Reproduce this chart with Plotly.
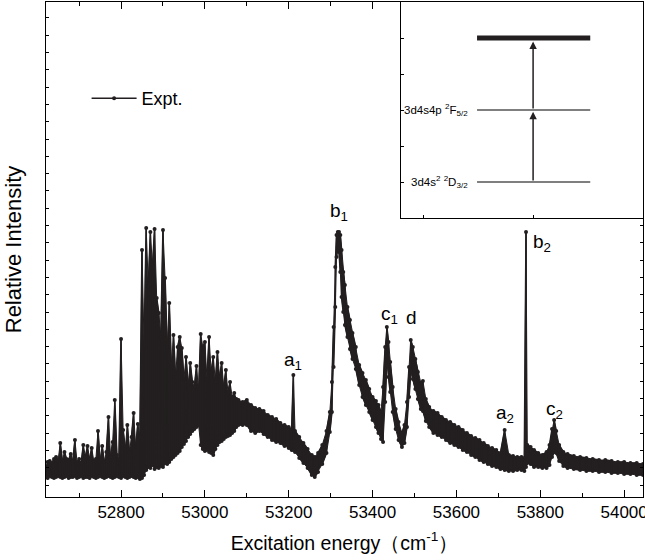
import plotly.graph_objects as go

# ---- spectrum: energy (cm-1), upper and lower edge of the trace band ----
energy = [52620, 52625, 52630, 52635, 52640, 52645, 52650, 52655, 52660, 52665,
          52670, 52675, 52680, 52685, 52690, 52695, 52700, 52705, 52710, 52715,
          52720, 52725, 52730, 52735, 52740, 52745, 52750, 52755, 52760, 52765,
          52770, 52775, 52780, 52785, 52790, 52795, 52800, 52805, 52810, 52815,
          52820, 52825, 52830, 52835, 52840, 52845, 52850, 52855, 52860, 52865,
          52870, 52875, 52880, 52885, 52890, 52895, 52900, 52905, 52910, 52915,
          52920, 52925, 52930, 52935, 52940, 52945, 52950, 52955, 52960, 52965,
          52970, 52975, 52980, 52985, 52990, 52995, 53000, 53005, 53010, 53015,
          53020, 53025, 53030, 53035, 53040, 53045, 53050, 53055, 53060, 53065,
          53070, 53075, 53080,
          53090, 53100, 53110, 53120, 53130, 53140, 53150, 53160, 53170, 53180,
          53190, 53200, 53207, 53211, 53215, 53225, 53235, 53245, 53255, 53262,
          53270, 53280, 53290, 53298, 53303, 53307, 53311, 53314, 53317, 53320,
          53323, 53326, 53330, 53334, 53340, 53346, 53352, 53360, 53368, 53376,
          53384, 53392, 53400, 53408, 53414, 53420, 53425, 53430, 53434, 53438,
          53442, 53448, 53455, 53462, 53470, 53476, 53482, 53487, 53491, 53496,
          53502, 53508, 53515, 53520, 53527, 53535, 53545, 53555, 53565, 53575,
          53585, 53595, 53605, 53615, 53625, 53635, 53645, 53655, 53665, 53675,
          53685, 53695, 53705, 53715, 53725, 53735, 53745, 53755, 53762, 53766,
          53769, 53777, 53785, 53795, 53805, 53815, 53822, 53828, 53833, 53838,
          53845, 53855, 53865, 53880, 53895, 53910, 53925, 53940, 53955, 53970,
          53985, 54000, 54015, 54030, 54045]

upper = [30, 35, 36, 34, 38, 40, 37, 54, 36, 45,
         38, 37, 43, 36, 57, 35, 38, 34, 52, 40,
         51, 38, 49, 36, 38, 66, 37, 51, 35, 45,
         80, 40, 55, 97, 42, 38, 158, 67, 48, 72,
         45, 60, 84, 50, 73, 60, 247, 150, 269, 210,
         265, 230, 268, 199, 184, 160, 267, 219, 150, 194,
         130, 162, 120, 150, 160, 149, 118, 140, 112, 134,
         115, 110, 131, 105, 163, 150, 155, 118, 160, 125,
         140, 115, 145, 120, 134, 110, 127, 105, 115, 100,
         104, 98, 97,
         95, 97, 92, 89, 88, 86, 82, 80, 78, 74,
         72, 70, 68, 122, 66, 60, 54, 48, 42, 40,
         44, 52, 66, 85, 115, 170, 230, 262, 265, 265,
         262, 247, 225, 212, 190, 177, 164, 150, 132, 124,
         117, 108, 100, 96, 92, 85, 110, 150, 170, 155,
         135, 110, 88, 75, 64, 72, 95, 130, 157, 150,
         138, 125, 114, 116, 98, 90, 86, 84, 80, 77,
         75, 72, 70, 67, 64, 61, 59, 57, 54, 51,
         49, 47, 44, 67, 42, 41, 40, 40, 39, 265,
         52, 50, 47, 44, 42, 45, 52, 68, 77, 66,
         52, 45, 43, 41, 40, 39, 38, 37, 37, 36,
         35, 35, 34, 34, 33]

lower = [20, 19, 21, 20, 19, 20, 21, 20, 19, 20,
         21, 19, 20, 20, 21, 19, 20, 21, 19, 20,
         20, 19, 21, 20, 19, 20, 21, 20, 19, 20,
         21, 20, 19, 20, 21, 20, 19, 21, 20, 19,
         20, 21, 20, 19, 20, 18, 19, 22, 27, 30,
         29, 32, 28, 30, 29, 31, 30, 34, 33, 35,
         38, 40, 42, 44, 46, 50, 53, 56, 60, 63,
         66, 68, 70, 72, 52, 48, 46, 47, 45, 44,
         42, 48, 52, 55, 56, 58, 60, 61, 62, 64,
         66, 70, 72,
         72, 72, 66, 64, 66, 63, 60, 57, 55, 54,
         51, 49, 47, 47, 45, 39, 34, 29, 22, 20,
         25, 33, 44, 65, 85, 130, 190, 240, 250, 245,
         225, 200, 185, 172, 160, 148, 138, 128, 112, 100,
         92, 85, 77, 70, 64, 58, 55, 95, 135, 120,
         105, 85, 68, 57, 50, 54, 70, 100, 125, 118,
         108, 98, 88, 86, 76, 70, 64, 62, 60, 57,
         54, 52, 50, 47, 45, 42, 40, 37, 35, 33,
         31, 30, 28, 27, 26, 26, 27, 27, 26, 30,
         34, 33, 30, 30, 29, 29, 32, 40, 45, 44,
         36, 31, 29, 28, 27, 26, 26, 25, 25, 24,
         24, 23, 23, 22, 22]

# peak labels: (energy, height, text)
peak_x = [53321, 53211, 53440, 53492, 53716, 53804, 53835]
peak_y = [285, 136, 182, 180, 83, 254, 87]
peak_text = ["b<sub>1</sub>", "a<sub>1</sub>", "c<sub>1</sub>", "d",
             "a<sub>2</sub>", "b<sub>2</sub>", "c<sub>2</sub>"]

# inset level diagram
level_y = [0, 2, 4]
level_width = [1.2, 1.2, 5]
level_labels = ["3d4s<sup>2</sup> <sup>2</sup>D<sub>3/2</sub>", "3d4s4p <sup>2</sup>F<sub>5/2</sub>"]

INK = "#231f20"
FONT = "Liberation Sans, Arial, sans-serif"

# zig-zag between the band edges so the trace reads as a dense, thick band
xs, ys = [], []
for i, (e, u, l) in enumerate(zip(energy, upper, lower)):
    xs += [e, e]
    ys += [u, l] if i % 2 == 0 else [l, u]

fig = go.Figure()
# solid body of the band
fig.add_trace(go.Scatter(
    x=energy + energy[::-1], y=upper + lower[::-1], mode="lines",
    fill="toself", fillcolor=INK, line=dict(color=INK, width=1),
    showlegend=False, hoverinfo="skip",
))
fig.add_trace(go.Scatter(
    x=xs, y=ys, mode="lines+markers", name="Expt.",
    line=dict(color=INK, width=1.6),
    marker=dict(color=INK, size=4),
))

# dummy trace to bind inset axes
fig.add_trace(go.Scatter(x=[0], y=[0], xaxis="x2", yaxis="y2", mode="markers",
                         marker=dict(opacity=0), showlegend=False, hoverinfo="skip"))

axis_common = dict(showline=True, linecolor="black", linewidth=1, showgrid=False,
                   zeroline=False, ticks="inside", tickcolor="black", automargin=False)

fig.update_layout(
    width=645, height=560,
    margin=dict(l=46, r=2, t=2, b=63),
    paper_bgcolor="white", plot_bgcolor="white",
    font=dict(family=FONT, color="black"),
    showlegend=True,
    legend=dict(x=0.068, y=0.805, xanchor="left", yanchor="middle",
                bgcolor="rgba(0,0,0,0)", font=dict(size=18, family=FONT),
                itemwidth=45),
    xaxis=dict(**axis_common, range=[52621, 54045], tick0=52800, dtick=200,
               tickformat="d", ticklen=7, mirror="ticks", ticklabeloverflow="allow",
               minor=dict(dtick=100, ticklen=4, ticks="inside", tickcolor="black"),
               tickfont=dict(size=17),
               title=dict(text="Excitation energy（cm<sup>-1</sup>）",
                          font=dict(size=19.5), standoff=14)),
    yaxis=dict(**axis_common, range=[0, 495], tick0=12, dtick=17.3, ticklen=3,
               mirror="ticks", showticklabels=False,
               title=dict(text="Relative Intensity", font=dict(size=22), standoff=17)),
    xaxis2=dict(**axis_common, domain=[0.595, 1.0], anchor="y2", range=[-0.2, 2.0],
                dtick=1, ticklen=3, showticklabels=False),
    yaxis2=dict(**axis_common, domain=[0.5636, 1.0], anchor="x2", range=[-1, 5],
                dtick=1, ticklen=3, showticklabels=False),
)

for yv, w in zip(level_y, level_width):
    fig.add_shape(type="line", xref="x2", yref="y2", x0=0.49, x1=1.52, y0=yv, y1=yv,
                  line=dict(color=INK if w > 2 else "black", width=w))

fig.add_annotation(x=1, y=1.95, ax=1, ay=0, xref="x2", yref="y2", axref="x2", ayref="y2",
                   showarrow=True, arrowhead=2, arrowsize=1, arrowwidth=1.5,
                   arrowcolor=INK, text="")
fig.add_annotation(x=1, y=3.9, ax=1, ay=2, xref="x2", yref="y2", axref="x2", ayref="y2",
                   showarrow=True, arrowhead=2, arrowsize=1, arrowwidth=1.5,
                   arrowcolor=INK, text="")
for yv, txt in zip(level_y[:2], level_labels):
    fig.add_annotation(x=0.43, y=yv, xref="x2", yref="y2", text=txt, showarrow=False,
                       xanchor="right", yanchor="middle", font=dict(size=11.5, family=FONT))

for px, py, t in zip(peak_x, peak_y, peak_text):
    fig.add_annotation(x=px, y=py, text=t, showarrow=False, xanchor="center",
                       yanchor="middle", font=dict(size=19, family=FONT))

fig.write_html("out.html", config={"displayModeBar": False},
               post_script="document.body.style.margin='0';")
